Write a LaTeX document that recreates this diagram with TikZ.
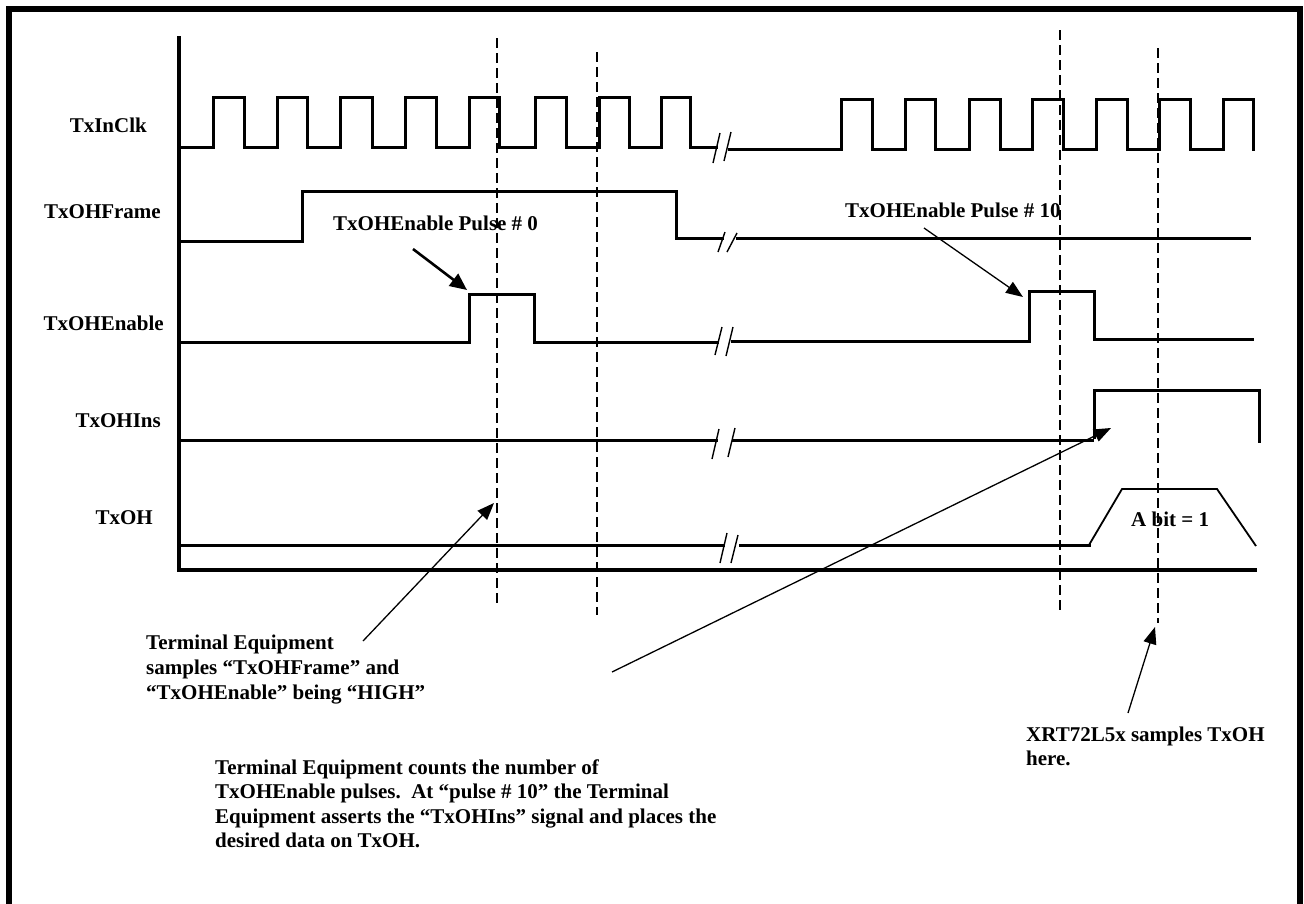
\documentclass[tikz,border=0pt]{standalone}
\usepackage{fontspec}
\setmainfont{Liberation Serif}
\usetikzlibrary{arrows.meta}
\begin{document}
\begin{tikzpicture}[x=1pt,y=-1pt,
  sig/.style={line width=3pt, line join=miter, line cap=rect},
  trap/.style={line width=1.8pt, line join=miter},
  axisline/.style={line width=4.5pt, line join=miter},
  dsh/.style={line width=2pt, dash pattern=on 10pt off 5pt},
  brkmark/.style={line width=1.4pt},
  lbl/.style={inner sep=0pt, font=\fontsize{21}{25}\selectfont\bfseries},
  thinarrow/.style={line width=1.3pt, -{Triangle[length=17pt,width=13pt]}},
  thickarrow/.style={line width=2.6pt, -{Triangle[length=17pt,width=15pt]}},
]
\useasboundingbox (0,0) rectangle (1304,903);
\clip (0,0) rectangle (1304,903);
% frame
\draw[line width=6.5pt] (9,9) rectangle (1300,940);
% axes
\draw[axisline] (179,36) -- (179,570) -- (1257,570);
% dashed sample lines
\draw[dsh] (497,38) -- (497,607);
\draw[dsh] (597,52) -- (597,615);
\draw[dsh] (1060,30) -- (1060,612);
\draw[dsh] (1158,48) -- (1158,623);
% TxInClk
\draw[sig] (181,147) -- (213,147) -- (213,97) -- (244,97) -- (244,147) -- (277,147) -- (277,97) -- (307,97) -- (307,147) -- (340,147) -- (340,97) -- (372,97) -- (372,147) -- (405,147) -- (405,97) -- (436,97) -- (436,147) -- (469,147) -- (469,97) -- (499,97) -- (499,147) -- (535,147) -- (535,97) -- (566,97) -- (566,147) -- (599,147) -- (599,97) -- (629,97) -- (629,147) -- (661,147) -- (661,97) -- (690,97) -- (690,147) -- (716,147);
\draw[sig] (729,149) -- (841,149) -- (841,99) -- (872,99) -- (872,149) -- (905,149) -- (905,99) -- (935,99) -- (935,149) -- (969,149) -- (969,99) -- (1000,99) -- (1000,149) -- (1032,149) -- (1032,99) -- (1063,99) -- (1063,149) -- (1096,149) -- (1096,99) -- (1127,99) -- (1127,149) -- (1159,149) -- (1159,99) -- (1190,99) -- (1190,149) -- (1223,149) -- (1223,99) -- (1253,99) -- (1253,149);
\draw[brkmark] (713,163) -- (720,133) (724,161) -- (731,132);
% TxOHFrame
\draw[sig] (181,241) -- (302,241) -- (302,191) -- (676,191) -- (676,238) -- (722,238);
\draw[sig] (737,238) -- (1249,238);
\draw[brkmark] (718,252) -- (725,232) (727,252) -- (737,233);
% TxOHEnable
\draw[sig] (181,342) -- (469,342) -- (469,294) -- (534,294) -- (534,342) -- (717,342);
\draw[sig] (732,341) -- (1029,341) -- (1029,291) -- (1094,291) -- (1094,339) -- (1252,339);
\draw[brkmark] (715,355) -- (722,327) (726,356) -- (733,327);
% TxOHIns
\draw[sig] (181,440) -- (716,440);
\draw[sig] (733,440) -- (1092,440);
\draw[sig] (1094,437) -- (1094,390) -- (1259,390) -- (1259,441);
\draw[brkmark] (712,459) -- (719,429) (728,457) -- (735,428);
% TxOH
\draw[sig] (181,545) -- (723,545);
\draw[sig] (740,545) -- (1089,545);
\draw[trap] (1089,545) -- (1122,489) -- (1217,489) -- (1256,546);
\draw[brkmark] (720,563) -- (727,533) (731,563) -- (738,535);
% signal labels
\node[lbl, anchor=base east] (lclk) at (147,132) {TxInClk};
\node[lbl, anchor=base east] (lfrm) at (161,218) {TxOHFrame};
\node[lbl, anchor=base east] (lena) at (164,330) {TxOHEnable};
\node[lbl, anchor=base east] (lins) at (161,427) {TxOHIns};
\node[lbl, anchor=base east] (ltxoh) at (153,524) {TxOH};
% annotations
\node[lbl, anchor=base west] (p0) at (333,230) {TxOHEnable Pulse \# 0};
\node[lbl, anchor=base west] (p10) at (845,217) {TxOHEnable Pulse \# 10};
\node[lbl, anchor=base west] (abit) at (1131,526) {A bit = 1};
\node[lbl, anchor=base west] (ta1) at (146,649) {Terminal Equipment};
\node[lbl, anchor=base west] (ta2) at (146,674) {samples “TxOHFrame” and};
\node[lbl, anchor=base west] (ta3) at (146,699) {“TxOHEnable” being “HIGH”};
\node[lbl, anchor=base west] (tb1) at (215,774) {Terminal Equipment counts the number of};
\node[lbl, anchor=base west] (tb2) at (215,798) {TxOHEnable pulses.\ \ At “pulse \# 10” the Terminal};
\node[lbl, anchor=base west] (tb3) at (215,823) {Equipment asserts the “TxOHIns” signal and places the};
\node[lbl, anchor=base west] (tb4) at (215,847) {desired data on TxOH.};
\node[lbl, anchor=base west] (xr1) at (1026,741) {XRT72L5x samples TxOH};
\node[lbl, anchor=base west] (xr2) at (1026,765) {here.};
% arrow end points
\coordinate (a0s) at (413,249);  \coordinate (a0t) at (467,290);
\coordinate (a10s) at (924,228); \coordinate (a10t) at (1023,297);
\coordinate (aas) at (363,641);  \coordinate (aat) at (494,503);
\coordinate (abs) at (612,672);  \coordinate (abt) at (1111,428);
\coordinate (axs) at (1128,713); \coordinate (axt) at (1155,627);
\draw[thickarrow] (a0s) -- (a0t);
\draw[thinarrow] (a10s) -- (a10t);
\draw[thinarrow] (aas) -- (aat);
\draw[thinarrow] (abs) -- (abt);
\draw[thinarrow] (axs) -- (axt);
\end{tikzpicture}
\end{document}
